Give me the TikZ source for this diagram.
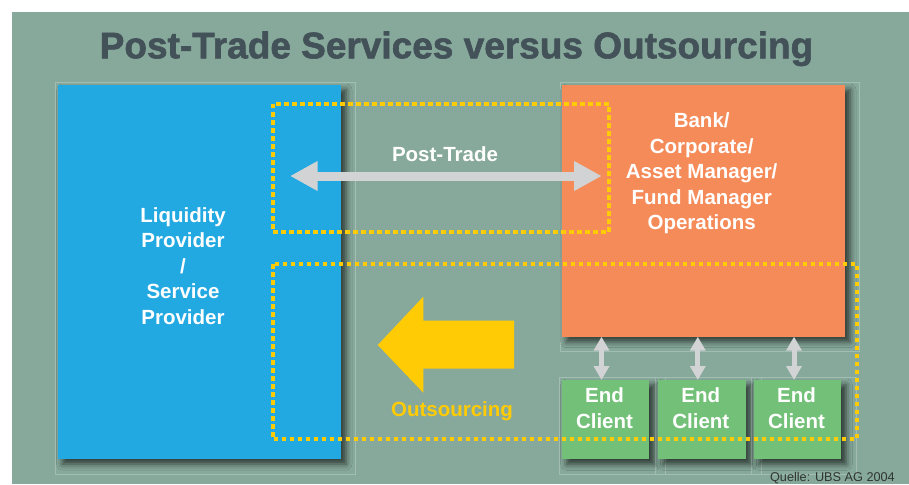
\documentclass[tikz,border=0pt]{standalone}
\usepackage{fontspec}
\setmainfont{Liberation Sans}
\newfontfamily\headfont{Liberation Sans}[BoldFeatures={FakeBold=1.6}]
\usetikzlibrary{arrows.meta,shadows.blur,calc}

\definecolor{bgteal}{HTML}{87A99B}
\definecolor{framec}{HTML}{A2BDB2}
\definecolor{lpblue}{HTML}{23A9E1}
\definecolor{bankorange}{HTML}{F68B5A}
\definecolor{clientgreen}{HTML}{73C178}
\definecolor{arrowgray}{HTML}{D1D3D4}
\definecolor{dotyellow}{HTML}{FFCB05}
\definecolor{titlec}{HTML}{435158}
\definecolor{notec}{HTML}{2F3533}

\begin{document}
\begin{tikzpicture}[x=1pt,y=-1pt,
  panel/.style={rectangle, draw=none, inner sep=0pt, outer sep=0pt,
    blur shadow={shadow xshift=5pt, shadow yshift=-5pt,
      shadow blur radius=6pt, shadow opacity=65}},
  frameline/.style={draw=framec, line width=0.7pt},
  boxtext/.style={font=\fontsize{20.5}{25.5}\selectfont\bfseries,
    text=white, align=center, inner sep=0pt},
  dotbox/.style={draw=dotyellow, line width=4pt, dash pattern=on 4.5pt off 3.5pt},
  flow/.style={draw=arrowgray, line width=9pt,
    {Triangle[length=27.7pt,width=28pt]}-{Triangle[length=27.7pt,width=28pt]}},
  link/.style={draw=arrowgray, line width=5pt,
    {Triangle[length=14pt,width=15pt]}-{Triangle[length=14pt,width=15pt]}},
]
% page and backdrop
\useasboundingbox (0,0) rectangle (909,484);
\fill[white] (0,0) rectangle (909,484);
\fill[bgteal] (12,12) rectangle (909,484);

% title
\node[anchor=base, inner sep=0pt, text=titlec,
  font=\headfont\fontsize{37}{40}\selectfont\bfseries] (title) at (456.5,58.3)
  {Post-Trade Services versus Outsourcing};

% thin frames behind the panels
\draw[frameline] (55.7,82.7) rectangle (355,474);
\draw[frameline] (560,82.7) rectangle (859.3,351.7);
\draw[frameline] (559.3,377.3) rectangle (665,474);
\draw[frameline] (655.7,377.3) rectangle (761.7,474);
\draw[frameline] (751.7,377.3) rectangle (856.7,474);

% panels
\node[panel, fill=lpblue, minimum width=283.3pt, minimum height=374pt] (lp) at (199.35,272) {};
\node[panel, fill=bankorange, minimum width=283.3pt, minimum height=251.7pt] (bank) at (703.35,210.85) {};
\node[panel, fill=clientgreen, minimum width=87.6pt, minimum height=79.3pt] (ec1) at (605.5,419.65) {};
\node[panel, fill=clientgreen, minimum width=87.6pt, minimum height=79.3pt] (ec2) at (701.8,419.65) {};
\node[panel, fill=clientgreen, minimum width=87.6pt, minimum height=79.3pt] (ec3) at (797.5,419.65) {};

% panel texts
\node[boxtext] (lptext) at (183,266) {Liquidity\\Provider\\/\\Service\\Provider};
\node[boxtext] (banktext) at (701.7,173.5) {Bank/\\Corporate/\\Asset Manager/\\Fund Manager\\Operations};
\node[boxtext] (ec1text) at ($(ec1.center)+(-1,-11.5)$) {End\\Client};
\node[boxtext] (ec2text) at ($(ec2.center)+(-1,-11.5)$) {End\\Client};
\node[boxtext] (ec3text) at ($(ec3.center)+(-1,-11.5)$) {End\\Client};

% dotted service areas
\draw[dotbox] (272.7,104) rectangle (609,231.7);
\draw[dotbox] (272.7,264) rectangle (856.7,439.2);

% post-trade flow
\coordinate (ptL) at (290,176);
\coordinate (ptR) at (601.7,176);
\draw[flow] (ptL) -- (ptR);
\node[boxtext, anchor=base] (ptlabel) at (445,161) {Post-Trade};

% bank <-> end clients
\draw[link] ([xshift=-4pt]ec1.north |- bank.south) -- ([xshift=-4pt]ec1.north);
\draw[link] ([xshift=-4pt]ec2.north |- bank.south) -- ([xshift=-4pt]ec2.north);
\draw[link] ([xshift=-3.5pt]ec3.north |- bank.south) -- ([xshift=-3.5pt]ec3.north);

% outsourcing block arrow
\fill[dotyellow] (377.7,345) -- (423.3,296.7) -- (423.3,320.7) -- (514,320.7)
  -- (514,368.7) -- (423.3,368.7) -- (423.3,392.7) -- cycle;
\node[boxtext, text=dotyellow, anchor=base] (outlabel) at (452,416.7) {Outsourcing};

% source note
\node[anchor=base east, inner sep=0pt, text=notec,
  font=\fontsize{12.7}{14}\selectfont] (src) at (895,481.8) {Quelle: UBS AG 2004};
\end{tikzpicture}
\end{document}
